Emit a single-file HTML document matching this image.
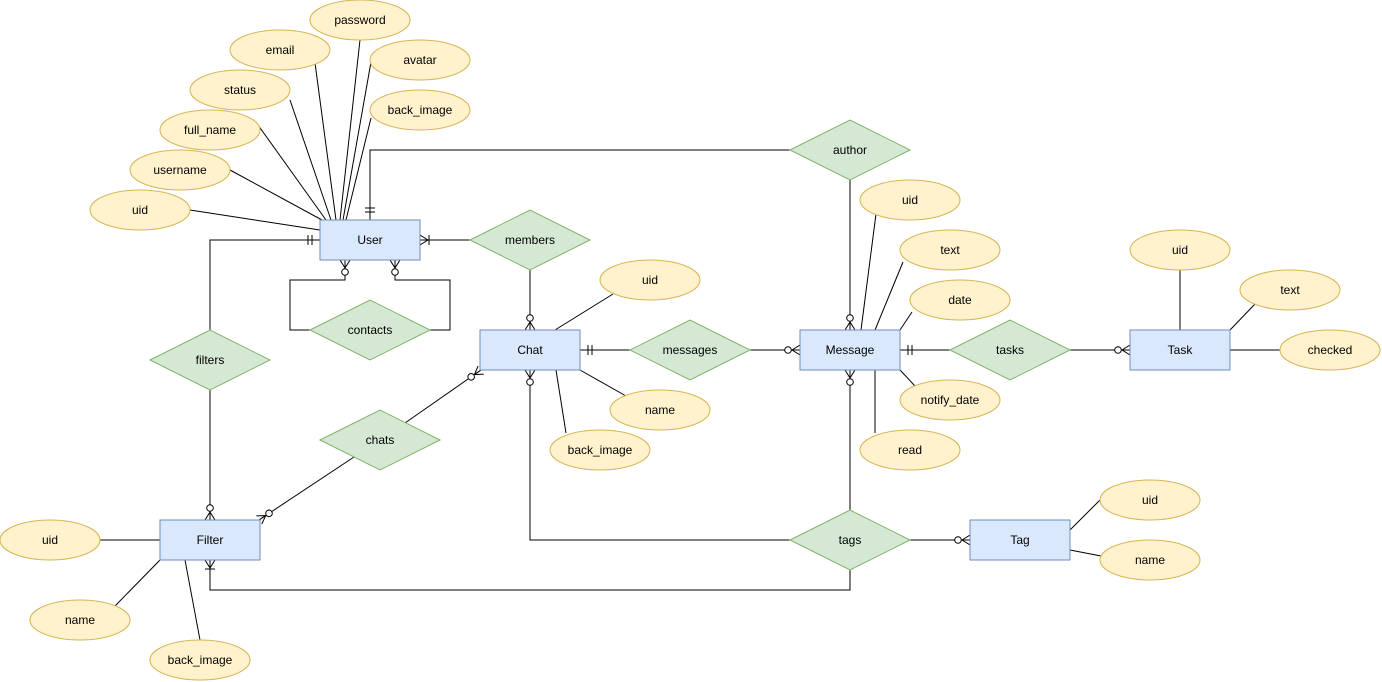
<!DOCTYPE html>
<html><head><meta charset="utf-8"><style>
html,body{margin:0;padding:0;background:#fff;}
svg{display:block;}
text{font-family:"Liberation Sans",sans-serif;font-size:12px;fill:#000;text-anchor:middle;dominant-baseline:central;}
.e{fill:#dae8fc;stroke:#6c8ebf;stroke-width:1;}
.a{fill:#fff2cc;stroke:#d6b656;stroke-width:1;}
.r{fill:#d5e8d4;stroke:#82b366;stroke-width:1;}
.l{fill:none;stroke:#000;stroke-width:1;}
</style></head><body>
<svg width="1382" height="682" viewBox="0 0 1382 682" xmlns="http://www.w3.org/2000/svg">
<defs>
<marker id="zm" markerUnits="userSpaceOnUse" markerWidth="20" markerHeight="12" refX="20" refY="6" orient="auto" viewBox="0 0 20 12">
 <path d="M12,6 L20,1 M12,6 L20,6 M12,6 L20,11" stroke="#000" fill="none"/>
 <circle cx="8" cy="6" r="3.3" fill="#fff" stroke="#000"/>
</marker>
<marker id="om" markerUnits="userSpaceOnUse" markerWidth="20" markerHeight="12" refX="20" refY="6" orient="auto" viewBox="0 0 20 12">
 <path d="M12,6 L20,1 M12,6 L20,6 M12,6 L20,11 M11,1 L11,11" stroke="#000" fill="none"/>
</marker>
<marker id="mo" markerUnits="userSpaceOnUse" markerWidth="20" markerHeight="12" refX="20" refY="6" orient="auto" viewBox="0 0 20 12">
 <path d="M8,1 L8,11 M12,1 L12,11 M0,6 L20,6" stroke="#000" fill="none"/>
</marker>
</defs>

<!-- attribute lines -->
<g class="l">
<line x1="190" y1="210" x2="320" y2="230"/>
<line x1="230" y1="170" x2="322" y2="220"/>
<line x1="258" y1="125" x2="326" y2="220"/>
<line x1="290" y1="100" x2="331" y2="220"/>
<line x1="315" y1="63" x2="336" y2="220"/>
<line x1="360" y1="40" x2="340" y2="220"/>
<line x1="371" y1="62" x2="343" y2="220"/>
<line x1="371" y1="118" x2="346" y2="220"/>
<line x1="613" y1="294" x2="555" y2="330"/>
<line x1="626" y1="396" x2="580" y2="370"/>
<line x1="566" y1="433" x2="556" y2="370"/>
<line x1="876" y1="214" x2="861" y2="330"/>
<line x1="903" y1="262" x2="875" y2="330"/>
<line x1="912" y1="312" x2="900" y2="330"/>
<line x1="915" y1="386" x2="900" y2="370"/>
<line x1="875" y1="433" x2="875" y2="370"/>
<line x1="1180" y1="270" x2="1180" y2="330"/>
<line x1="1255" y1="304" x2="1230" y2="330"/>
<line x1="1280" y1="350" x2="1230" y2="350"/>
<line x1="1100" y1="500" x2="1070" y2="530"/>
<line x1="1101" y1="556" x2="1070" y2="550"/>
<line x1="100" y1="540" x2="160" y2="540"/>
<line x1="115" y1="606" x2="160" y2="560"/>
<line x1="200" y1="640" x2="185" y2="560"/>
</g>

<!-- relationship lines -->
<g class="l">
<path d="M790,150 L370,150 L370,220" marker-end="url(#mo)"/>
<path d="M850,180 L850,330" marker-end="url(#zm)"/>
<path d="M470,240 L420,240" marker-end="url(#om)"/>
<path d="M530,270 L530,330" marker-end="url(#zm)"/>
<path d="M310,330 L290,330 L290,280 L345,280 L345,260" marker-end="url(#zm)"/>
<path d="M430,330 L450,330 L450,280 L395,280 L395,260" marker-end="url(#zm)"/>
<path d="M210,330 L210,240 L320,240" marker-end="url(#mo)"/>
<path d="M210,390 L210,520" marker-end="url(#zm)"/>
<path d="M405,423 L481,370" marker-end="url(#zm)"/>
<path d="M354,457 L259,520" marker-end="url(#zm)"/>
<path d="M630,350 L580,350" marker-end="url(#mo)"/>
<path d="M750,350 L800,350" marker-end="url(#zm)"/>
<path d="M950,350 L900,350" marker-end="url(#mo)"/>
<path d="M1070,350 L1130,350" marker-end="url(#zm)"/>
<path d="M790,540 L530,540 L530,370" marker-end="url(#zm)"/>
<path d="M850,510 L850,370" marker-end="url(#zm)"/>
<path d="M910,540 L970,540" marker-end="url(#zm)"/>
<path d="M850,570 L850,590 L210,590 L210,560" marker-end="url(#om)"/>
</g>

<!-- entities -->
<rect class="e" x="320" y="220" width="100" height="40"/><text x="370" y="240">User</text>
<rect class="e" x="480" y="330" width="100" height="40"/><text x="530" y="350">Chat</text>
<rect class="e" x="800" y="330" width="100" height="40"/><text x="850" y="350">Message</text>
<rect class="e" x="1130" y="330" width="100" height="40"/><text x="1180" y="350">Task</text>
<rect class="e" x="160" y="520" width="100" height="40"/><text x="210" y="540">Filter</text>
<rect class="e" x="970" y="520" width="100" height="40"/><text x="1020" y="540">Tag</text>

<!-- relationships -->
<g>
<polygon class="r" points="790,150 850,120 910,150 850,180"/><text x="850" y="150">author</text>
<polygon class="r" points="470,240 530,210 590,240 530,270"/><text x="530" y="240">members</text>
<polygon class="r" points="310,330 370,300 430,330 370,360"/><text x="370" y="330">contacts</text>
<polygon class="r" points="150,360 210,330 270,360 210,390"/><text x="210" y="360">filters</text>
<polygon class="r" points="630,350 690,320 750,350 690,380"/><text x="690" y="350">messages</text>
<polygon class="r" points="950,350 1010,320 1070,350 1010,380"/><text x="1010" y="350">tasks</text>
<polygon class="r" points="320,440 380,410 440,440 380,470"/><text x="380" y="440">chats</text>
<polygon class="r" points="790,540 850,510 910,540 850,570"/><text x="850" y="540">tags</text>
</g>

<!-- attributes -->
<g>
<ellipse class="a" cx="360" cy="20" rx="50" ry="20"/><text x="360" y="20">password</text>
<ellipse class="a" cx="280" cy="50" rx="50" ry="20"/><text x="280" y="50">email</text>
<ellipse class="a" cx="420" cy="60" rx="50" ry="20"/><text x="420" y="60">avatar</text>
<ellipse class="a" cx="240" cy="90" rx="50" ry="20"/><text x="240" y="90">status</text>
<ellipse class="a" cx="420" cy="110" rx="50" ry="20"/><text x="420" y="110">back_image</text>
<ellipse class="a" cx="210" cy="130" rx="50" ry="20"/><text x="210" y="130">full_name</text>
<ellipse class="a" cx="180" cy="170" rx="50" ry="20"/><text x="180" y="170">username</text>
<ellipse class="a" cx="140" cy="210" rx="50" ry="20"/><text x="140" y="210">uid</text>
<ellipse class="a" cx="650" cy="280" rx="50" ry="20"/><text x="650" y="280">uid</text>
<ellipse class="a" cx="660" cy="410" rx="50" ry="20"/><text x="660" y="410">name</text>
<ellipse class="a" cx="600" cy="450" rx="50" ry="20"/><text x="600" y="450">back_image</text>
<ellipse class="a" cx="910" cy="200" rx="50" ry="20"/><text x="910" y="200">uid</text>
<ellipse class="a" cx="950" cy="250" rx="50" ry="20"/><text x="950" y="250">text</text>
<ellipse class="a" cx="960" cy="300" rx="50" ry="20"/><text x="960" y="300">date</text>
<ellipse class="a" cx="950" cy="400" rx="50" ry="20"/><text x="950" y="400">notify_date</text>
<ellipse class="a" cx="910" cy="450" rx="50" ry="20"/><text x="910" y="450">read</text>
<ellipse class="a" cx="1180" cy="250" rx="50" ry="20"/><text x="1180" y="250">uid</text>
<ellipse class="a" cx="1290" cy="290" rx="50" ry="20"/><text x="1290" y="290">text</text>
<ellipse class="a" cx="1330" cy="350" rx="50" ry="20"/><text x="1330" y="350">checked</text>
<ellipse class="a" cx="1150" cy="500" rx="50" ry="20"/><text x="1150" y="500">uid</text>
<ellipse class="a" cx="1150" cy="560" rx="50" ry="20"/><text x="1150" y="560">name</text>
<ellipse class="a" cx="50" cy="540" rx="50" ry="20"/><text x="50" y="540">uid</text>
<ellipse class="a" cx="80" cy="620" rx="50" ry="20"/><text x="80" y="620">name</text>
<ellipse class="a" cx="200" cy="660" rx="50" ry="20"/><text x="200" y="660">back_image</text>
</g>
</svg>
</body></html>
